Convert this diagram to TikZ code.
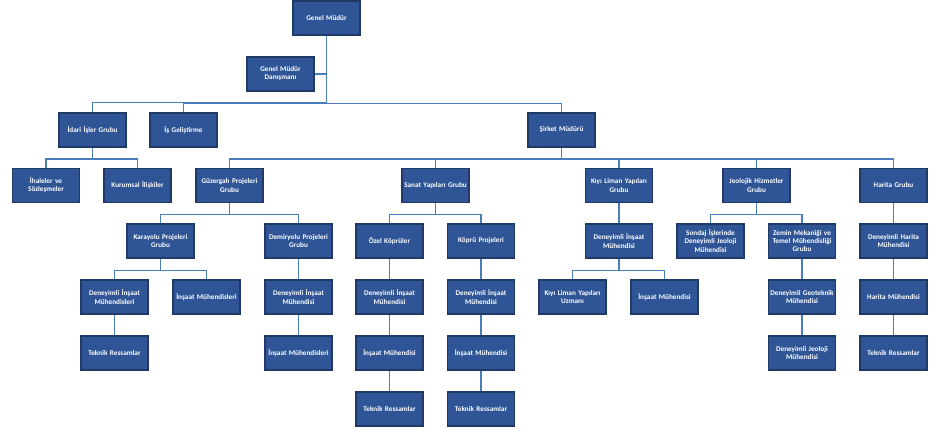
\documentclass[tikz,border=0pt]{standalone}
\usepackage{fontspec}
\setmainfont{Carlito}
\usepackage{xcolor}
\definecolor{boxblue}{RGB}{47,85,151}
\definecolor{boxedge}{RGB}{32,58,104}
\definecolor{lineblue}{RGB}{74,126,187}

\begin{document}
\begin{tikzpicture}
[x=0.02cm, y=-0.02cm,
 OrgNode/.style={rectangle,
    draw=boxedge, fill=boxblue, line width=0.6pt,
    minimum width=1.34cm, minimum height=0.68cm, inner sep=0pt,
    text width=1.32cm, align=center, text=white,
    font=\bfseries\fontsize{4.1}{4.6}\selectfont},
 Conn/.style={draw=lineblue, line width=0.8pt}]
\useasboundingbox (0,0) rectangle (946,435);
\node[OrgNode] (gm) at (326.5,18) {Genel Müdür};
\node[OrgNode] (gmd) at (280.5,74) {Genel Müdür\\Danışmanı};
\node[OrgNode] (idari) at (92.5,130) {İdari İşler Grubu};
\node[OrgNode] (isgel) at (183.5,130) {İş Geliştirme};
\node[OrgNode] (sirket) at (561.5,130) {Şirket Müdürü};
\node[OrgNode] (ihale) at (46,185.5) {İhaleler ve\\Sözleşmeler};
\node[OrgNode] (kurumsal) at (137.5,185.5) {Kurumsal İlişkiler};
\node[OrgNode] (guz) at (229.5,185.5) {Güzergah Projeleri\\Grubu};
\node[OrgNode] (sanat) at (435.5,185.5) {Sanat Yapıları Grubu};
\node[OrgNode] (kiyi) at (619,185.5) {Kıyı Liman Yapıları\\Grubu};
\node[OrgNode] (jeo) at (756.5,185.5) {Jeolojik Hizmetler\\Grubu};
\node[OrgNode] (harita) at (893.5,185.5) {Harita Grubu};
\node[OrgNode] (kara) at (160.5,241) {Karayolu Projeleri\\Grubu};
\node[OrgNode] (demir) at (298.5,241) {Demiryolu Projeleri\\Grubu};
\node[OrgNode] (ozel) at (389.5,241) {Özel Köprüler};
\node[OrgNode] (kopru) at (481,241) {Köprü Projeleri};
\node[OrgNode] (kiyiDim) at (619,241) {Deneyimli İnşaat\\Mühendisi};
\node[OrgNode] (sondaj) at (710.5,241) {Sondaj İşlerinde\\Deneyimli Jeoloji\\Mühendisi};
\node[OrgNode] (zemin) at (802,241) {Zemin Mekaniği ve\\Temel Mühendisliği\\Grubu};
\node[OrgNode] (haritaDim) at (893.5,241) {Deneyimli Harita\\Mühendisi};
\node[OrgNode] (karaDim) at (114.5,297) {Deneyimli İnşaat\\Mühendisleri};
\node[OrgNode] (karaIm) at (206.5,297) {İnşaat Mühendisleri};
\node[OrgNode] (demirDim) at (298.5,297) {Deneyimli İnşaat\\Mühendisi};
\node[OrgNode] (ozelDim) at (389.5,297) {Deneyimli İnşaat\\Mühendisi};
\node[OrgNode] (kopruDim) at (481,297) {Deneyimli İnşaat\\Mühendisi};
\node[OrgNode] (kiyiUz) at (572.5,297) {Kıyı Liman Yapıları\\Uzmanı};
\node[OrgNode] (kiyiIm) at (664.5,297) {İnşaat Mühendisi};
\node[OrgNode] (zeminGeo) at (802,297) {Deneyimli Geoteknik\\Mühendisi};
\node[OrgNode] (haritaIm) at (893.5,297) {Harita Mühendisi};
\node[OrgNode] (karaTr) at (114.5,353) {Teknik Ressamlar};
\node[OrgNode] (demirIm) at (298.5,353) {İnşaat Mühendisleri};
\node[OrgNode] (ozelIm) at (389.5,353) {İnşaat Mühendisi};
\node[OrgNode] (kopruIm) at (481,353) {İnşaat Mühendisi};
\node[OrgNode] (zeminJeo) at (802,353) {Deneyimli Jeoloji\\Mühendisi};
\node[OrgNode] (haritaTr) at (893.5,353) {Teknik Ressamlar};
\node[OrgNode] (ozelTr) at (389.5,409) {Teknik Ressamlar};
\node[OrgNode] (kopruTr) at (481,409) {Teknik Ressamlar};
\draw[Conn] (gmd.east) -- (gmd.east -| gm.south);
\draw[Conn] (gm.south) |- ([yshift=0.2cm]idari.north) -- (idari.north);
\foreach \p/\c in {gm/isgel, gm/sirket, idari/ihale, idari/kurumsal,
    sirket/guz, sirket/sanat, sirket/kiyi, sirket/jeo, sirket/harita,
    guz/kara, guz/demir, sanat/ozel, sanat/kopru, kiyi/kiyiDim,
    jeo/sondaj, jeo/zemin, harita/haritaDim,
    kara/karaDim, kara/karaIm, demir/demirDim, ozel/ozelDim, kopru/kopruDim,
    kiyiDim/kiyiUz, kiyiDim/kiyiIm, zemin/zeminGeo, haritaDim/haritaIm,
    karaDim/karaTr, demirDim/demirIm, ozelDim/ozelIm, kopruDim/kopruIm,
    zeminGeo/zeminJeo, haritaIm/haritaTr, ozelIm/ozelTr, kopruIm/kopruTr}
    \draw[Conn] (\p.south) |- ([yshift=0.18cm]\c.north) -- (\c.north);
\end{tikzpicture}
\end{document}
